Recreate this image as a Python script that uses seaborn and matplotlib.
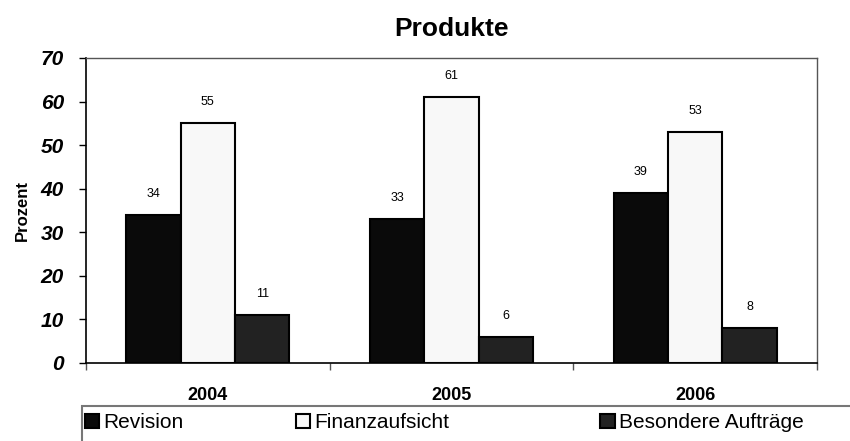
import pandas as pd
import matplotlib.pyplot as plt
import seaborn as sns
from matplotlib.patches import Rectangle

# Data
years = ["2004", "2005", "2006"]
categories = ["Revision", "Finanzaufsicht", "Besondere Aufträge"]
revision = [34, 33, 39]
finanzaufsicht = [55, 61, 53]
besondere = [11, 6, 8]
colors = ["#0a0a0a", "#f8f8f8", "#222222"]

df = pd.DataFrame({
    "Jahr": years * 3,
    "Kategorie": [categories[0]] * 3 + [categories[1]] * 3 + [categories[2]] * 3,
    "Prozent": revision + finanzaufsicht + besondere,
})

sns.set_style("white")
plt.rcParams["font.family"] = ["Liberation Sans", "DejaVu Sans"]
plt.rcParams.update({"text.color": "black", "axes.labelcolor": "black",
                     "xtick.color": "black", "ytick.color": "black"})

fig = plt.figure(figsize=(8.5, 4.41), dpi=100)
ax = fig.add_axes([0.1012, 0.1769, 0.86, 0.6916])

sns.barplot(data=df, x="Jahr", y="Prozent", hue="Kategorie", palette=colors,
            width=0.67, edgecolor="black", linewidth=1.5, ax=ax)

for c in ax.containers:
    ax.bar_label(c, padding=11, fontsize=9, color="black")

ax.set_ylim(0, 70)
ax.set_xlim(-0.5, 2.5)
ax.set_yticks(range(0, 71, 10))
ax.set_yticklabels([str(v) for v in range(0, 71, 10)], fontsize=15,
                   fontweight="bold", fontstyle="italic")
ax.set_xticks([0, 1, 2])
ax.set_xticklabels(years, fontsize=13, fontweight="bold")
ax.tick_params(axis="x", length=0, pad=17, labelcolor="black")
ax.tick_params(axis="y", length=5, width=1, color="black", left=True, pad=11, labelcolor="black")
# group separator ticks on x axis
ax.set_xticks([-0.5, 0.5, 1.5, 2.5], minor=True)
ax.tick_params(axis="x", which="minor", length=5, width=1, color="#555555", bottom=True)
ax.set_xlabel("")
ax.set_ylabel("Prozent", fontsize=12, fontweight="bold", labelpad=8, color="black")
ax.set_title("Produkte", fontsize=19, fontweight="bold", pad=16, color="black")

for s in ["left", "bottom"]:
    ax.spines[s].set_color("black")
    ax.spines[s].set_linewidth(1.2)
for s in ["top", "right"]:
    ax.spines[s].set_color("#555555")
    ax.spines[s].set_linewidth(1)

handles, labels = ax.get_legend_handles_labels()
ax.get_legend().remove()

# legend box along the bottom edge
fig.patches.append(Rectangle((0.097, -0.05), 0.95, 0.1294, transform=fig.transFigure,
                             fill=False, edgecolor="#777777", linewidth=1.5))
legend_x = [0.09, 0.338, 0.696]
for h, lab, lx in zip(handles, labels, legend_x):
    leg = fig.legend([h], [lab], loc="center left", bbox_to_anchor=(lx, 0.041),
                     frameon=False, handlelength=0.7, handleheight=0.7,
                     handletextpad=0.2, borderaxespad=0,
                     prop={"family": ["Liberation Sans Narrow", "Liberation Sans"], "size": 15})
    for t in leg.get_texts():
        t.set_color("black")

fig.savefig("out.png", dpi=100)
